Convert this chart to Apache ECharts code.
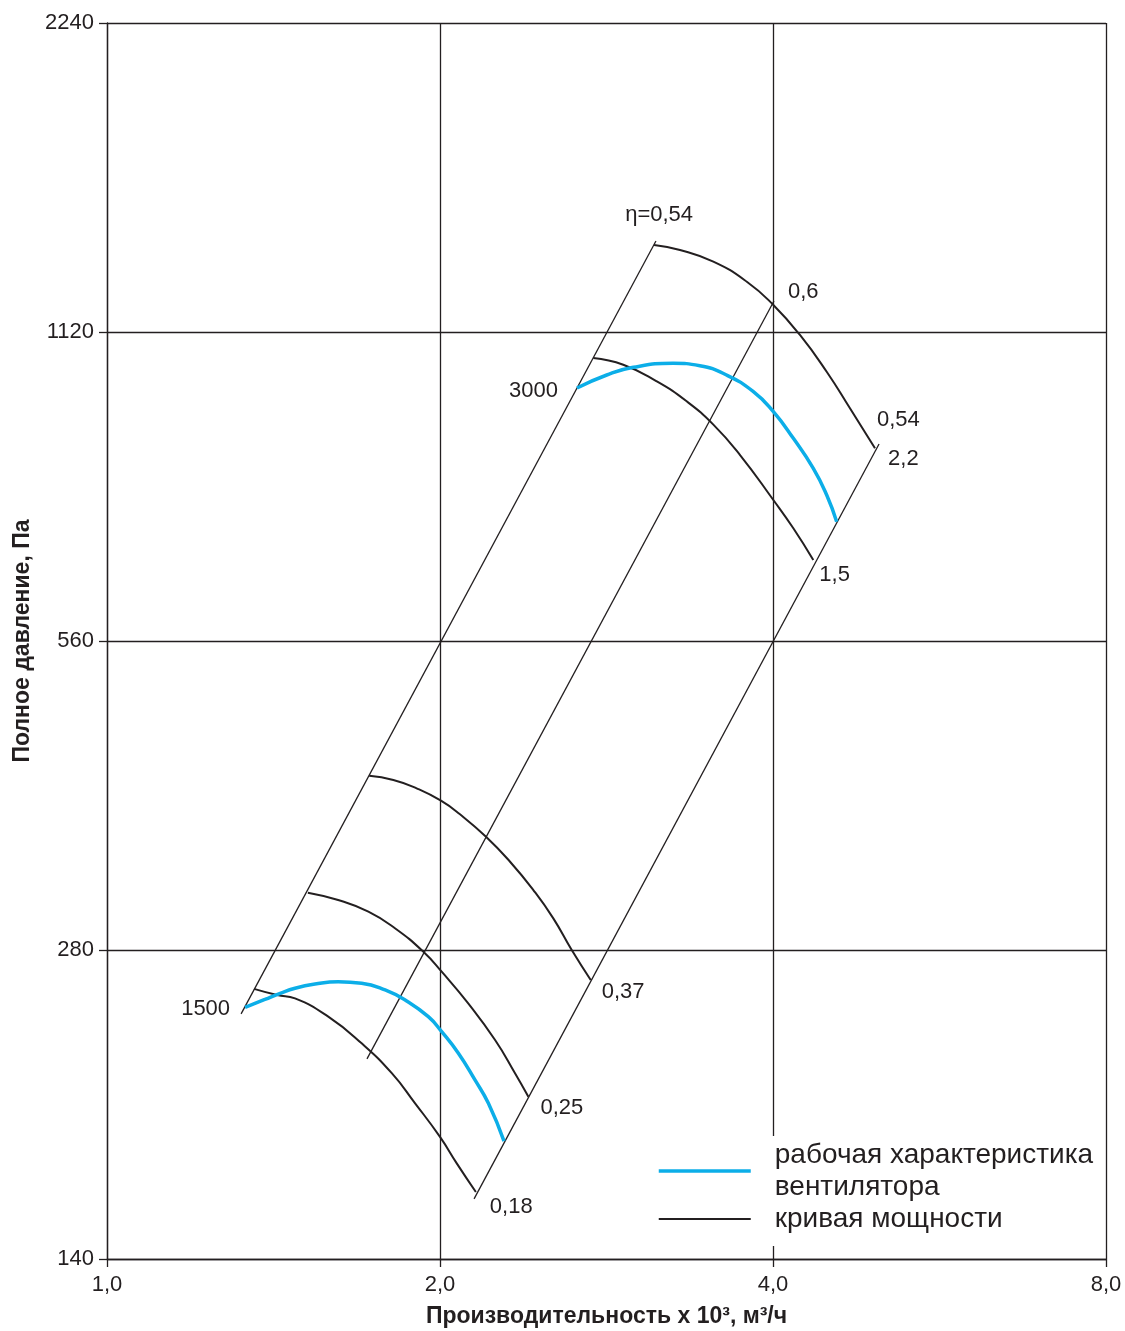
<!DOCTYPE html>
<html>
<head>
<meta charset="utf-8">
<script src="https://cdn.jsdelivr.net/npm/echarts@6/dist/echarts.min.js"></script>
<style>
html,body{margin:0;padding:0;background:#fff;}
#main{width:1125px;height:1331px;}
</style>
</head>
<body>
<div id="main"></div>
<script>
// ---- data (x: производительность x10^3 м3/ч, y: полное давление Па) ----
const xTicks = [1, 2, 4, 8];
const yTicks = [140, 280, 560, 1120, 2240];

// рабочие характеристики вентилятора (n = 1500 и 3000 об/мин)
const fan1500 = [[1.333,246.2],[1.389,250.6],[1.434,254.1],[1.479,257.0],[1.542,259.4],[1.618,260.8],[1.699,259.9],[1.784,256.0],[1.860,250.3],[1.952,241.1],[2.007,233.1],[2.078,222.1],[2.151,209.2],[2.212,198.5],[2.285,182.4]];
const fan3000 = [[2.660,987.8],[2.830,1017.0],[2.991,1034.7],[3.249,1044.0],[3.435,1038.4],[3.631,1017.0],[3.840,979.7],[4.003,936.7],[4.173,882.3],[4.350,824.9],[4.473,776.9],[4.567,731.8]];

// кривые мощности, кВт
const power018 = [[1.358,256.6],[1.425,253.1],[1.479,251.2],[1.585,241.1],[1.699,227.1],[1.809,212.4],[1.899,198.5],[2.000,184.1],[2.071,173.5],[2.155,162.7]];
const power025 = [[1.519,318.4],[1.618,313.2],[1.723,305.1],[1.821,294.0],[1.932,278.9],[2.007,266.7],[2.121,248.4],[2.243,228.8],[2.338,212.4],[2.404,201.5]];
const power037 = [[1.726,413.9],[1.815,410.0],[1.905,402.4],[2.004,391.4],[2.085,379.6],[2.201,361.0],[2.314,341.3],[2.429,320.3],[2.532,300.6],[2.631,280.0],[2.737,261.8]];
const power15  = [[2.752,1056.6],[2.929,1040.8],[3.140,1002.6],[3.342,958.7],[3.533,909.8],[3.735,849.9],[4.003,768.3],[4.173,721.1],[4.350,671.6]];
const power22  = [[3.123,1361.2],[3.296,1346.1],[3.533,1311.3],[3.788,1253.7],[4.003,1190.0],[4.231,1112.5],[4.473,1024.5],[4.695,943.8],[4.946,862.8]];

// линии КПД
const etaLeft  = [[1.322,242.6],[3.135,1373.6]];
const etaMid   = [[1.718,219.3],[4.008,1200.6]];
const etaRight = [[2.147,160.2],[4.988,871.1]];

const FAN_NAME = 'рабочая характеристика\nвентилятора';
const POWER_NAME = 'кривая мощности';
const INK = '#231f20';
const BLUE = '#0caee8';
const FONT = '"Liberation Sans", Arial, Helvetica, sans-serif';

const fmtX = v => (Math.round(v * 10) / 10).toFixed(1).replace('.', ',');
const fmtY = v => String(Math.round(v));

function curve(name, data, color, width) {
  return {
    type: 'line', name: name, data: data, symbol: 'none', smooth: 0.5,
    lineStyle: { color: color, width: width }, itemStyle: { color: color },
    silent: true, animation: false, z: color === BLUE ? 4 : 3
  };
}
function straight(name, data) {
  return {
    type: 'line', name: name, data: data, symbol: 'none',
    lineStyle: { color: INK, width: 1.3 }, itemStyle: { color: INK },
    silent: true, animation: false, z: 2
  };
}
function lab(pt, text, position, distance, offset) {
  return { value: pt, label: { show: true, formatter: text, position: position, distance: distance, offset: offset } };
}

const labels = [
  lab(fan1500[0], '1500', 'left', 15, [0, 2]),
  lab(fan3000[0], '3000', 'left', 19, [0, 3]),
  lab(power22[0], 'η=0,54', 'top', 19, [5, 0]),
  lab(etaMid[1], '0,6', 'right', 14, [0, -9]),
  lab(power22[power22.length - 1], '0,54', 'right', 2, [0, -28]),
  lab(etaRight[1], '2,2', 'right', 9, [0, 15]),
  lab(power15[power15.length - 1], '1,5', 'right', 6, [0, 15]),
  lab(power037[power037.length - 1], '0,37', 'right', 11, [0, 12]),
  lab(power025[power025.length - 1], '0,25', 'right', 12, [0, 11]),
  lab(power018[power018.length - 1], '0,18', 'right', 14, [0, 15])
];

const axisCommon = {
  type: 'log', logBase: 2,
  axisLine: { show: true, lineStyle: { color: INK, width: 1.3 } },
  axisTick: { show: true, length: 8, lineStyle: { color: INK, width: 1.3 } },
  splitLine: { show: true, lineStyle: { color: INK, width: 1.3 } },
  minorTick: { show: false }, minorSplitLine: { show: false },
  nameLocation: 'middle',
  nameTextStyle: { fontFamily: FONT, fontSize: 23, fontWeight: 'bold', color: INK }
};

const option = {
  backgroundColor: '#fff',
  animation: false,
  textStyle: { fontFamily: FONT },
  grid: { left: 107, right: 19, top: 23, bottom: 72, containLabel: false, outerBoundsMode: 'none' },
  xAxis: Object.assign({}, axisCommon, {
    min: xTicks[0], max: xTicks[xTicks.length - 1],
    name: 'Производительность х 10³, м³/ч', nameGap: 46,
    axisLabel: { fontSize: 22, color: INK, margin: 15, formatter: fmtX, fontFamily: FONT }
  }),
  yAxis: Object.assign({}, axisCommon, {
    min: yTicks[0], max: yTicks[yTicks.length - 1],
    name: 'Полное давление, Па', nameGap: 73,
    axisTick: { show: true, length: 8, lineStyle: { color: INK, width: 1.3 }, customValues: yTicks },
    axisLabel: { fontSize: 22, color: INK, margin: 13, formatter: fmtY, fontFamily: FONT, customValues: yTicks }
  }),
  legend: {
    data: [
      { name: FAN_NAME, lineStyle: { width: 3.5, color: BLUE } },
      { name: POWER_NAME, lineStyle: { width: 2, color: INK } }
    ],
    orient: 'vertical', left: 647, top: 1136,
    padding: [3, 10, 11, 10],
    itemWidth: 92, itemHeight: 3, itemGap: 0,
    itemStyle: { opacity: 0 },
    backgroundColor: '#fff', selectedMode: false,
    textStyle: { fontSize: 28, lineHeight: 32, color: INK, fontFamily: FONT, padding: [0, 0, 0, 19] }
  },
  series: [
    straight('η=0,54 (1)', etaLeft),
    straight('η=0,6', etaMid),
    straight('η=0,54 (2)', etaRight),
    curve(POWER_NAME, power018, INK, 2),
    curve(POWER_NAME, power025, INK, 2),
    curve(POWER_NAME, power037, INK, 2),
    curve(POWER_NAME, power15, INK, 2),
    curve(POWER_NAME, power22, INK, 2),
    curve(FAN_NAME, fan1500, BLUE, 3.5),
    curve(FAN_NAME, fan3000, BLUE, 3.5),
    {
      type: 'scatter', name: 'labels', data: labels, symbolSize: 0, silent: true, z: 5,
      itemStyle: { color: INK, opacity: 1 },
      label: { color: INK, fontSize: 22, fontFamily: FONT, opacity: 1 }
    }
  ]
};

const chart = echarts.init(document.getElementById('main'));
chart.setOption(option);
</script>
</body>
</html>
